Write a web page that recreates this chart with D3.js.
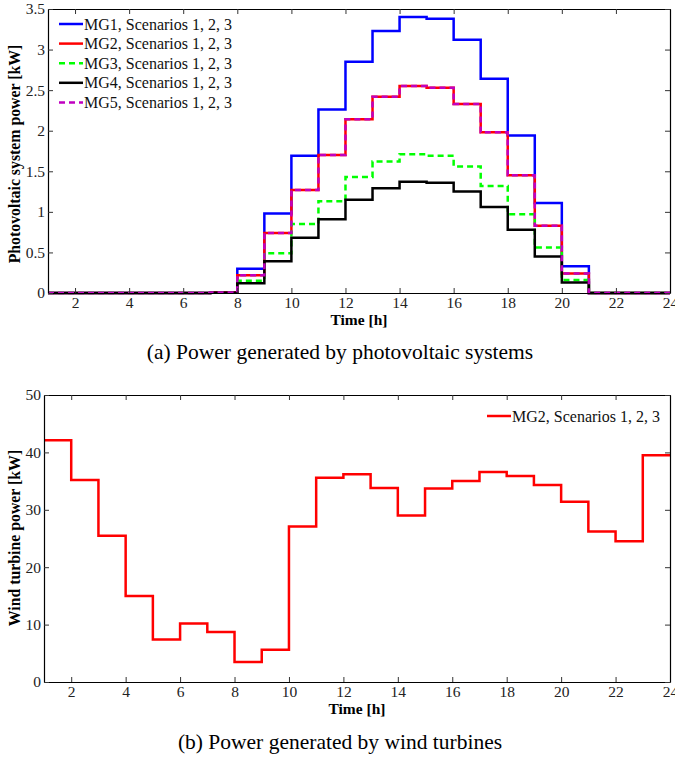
<!DOCTYPE html>
<html>
<head>
<meta charset="utf-8">
<script src="https://cdn.jsdelivr.net/npm/d3@7/dist/d3.min.js"></script>
<style>
  html, body { margin: 0; padding: 0; background: #fff; }
  svg { display: block; }
  text { font-family: "Liberation Serif", "Times New Roman", serif; }
</style>
</head>
<body>
<svg id="chart" width="675" height="758"></svg>
<script>
// ---------- DATA ----------
const hours = d3.range(1, 25); // 1..24
const xTicks = [2, 4, 6, 8, 10, 12, 14, 16, 18, 20, 22, 24];
const pvTicks = [0, 0.5, 1, 1.5, 2, 2.5, 3, 3.5];
const windTicks = [0, 10, 20, 30, 40, 50];

const pvMG1 = [0, 0, 0, 0, 0, 0, 0.01, 0.30, 0.98, 1.69, 2.26, 2.85, 3.23, 3.40, 3.38, 3.12, 2.64, 1.94, 1.11, 0.33, 0, 0, 0, 0];
const pvMG2 = [0, 0, 0, 0, 0, 0, 0.005, 0.22, 0.74, 1.27, 1.70, 2.14, 2.42, 2.55, 2.53, 2.33, 1.98, 1.45, 0.83, 0.24, 0, 0, 0, 0];
const pvMG3 = [0, 0, 0, 0, 0, 0, 0.004, 0.15, 0.49, 0.85, 1.13, 1.43, 1.62, 1.71, 1.69, 1.56, 1.32, 0.97, 0.56, 0.16, 0, 0, 0, 0];
const pvMG4 = [0, 0, 0, 0, 0, 0, 0.003, 0.12, 0.39, 0.68, 0.91, 1.15, 1.29, 1.37, 1.36, 1.25, 1.06, 0.78, 0.45, 0.13, 0, 0, 0, 0];
const pvMG5 = [0, 0, 0, 0, 0, 0, 0.005, 0.22, 0.74, 1.27, 1.70, 2.14, 2.42, 2.55, 2.53, 2.33, 1.98, 1.45, 0.83, 0.24, 0, 0, 0, 0];

const windMG2 = [42.1, 35.2, 25.5, 15.0, 7.4, 10.2, 8.7, 3.5, 5.6, 27.1, 35.6, 36.2, 33.8, 29.0, 33.7, 35.0, 36.6, 35.9, 34.3, 31.4, 26.2, 24.5, 39.5, 39.5];

const pvLabels = ["MG1, Scenarios 1, 2, 3", "MG2, Scenarios 1, 2, 3", "MG3, Scenarios 1, 2, 3", "MG4, Scenarios 1, 2, 3", "MG5, Scenarios 1, 2, 3"];
const windLabel = "MG2, Scenarios 1, 2, 3";

// ---------- STYLES ----------
const pvSeries = [
  { values: pvMG1, color: "#0000ff", dash: null },
  { values: pvMG2, color: "#ff0000", dash: null },
  { values: pvMG3, color: "#00ff00", dash: "6,4" },
  { values: pvMG4, color: "#000000", dash: null },
  { values: pvMG5, color: "#c000c0", dash: "6,4" }
];

const svg = d3.select("#chart");

function drawPanel(cfg) {
  const x = d3.scaleLinear().domain([1, 24]).range([cfg.left, cfg.right]);
  const y = d3.scaleLinear().domain(cfg.yDomain).range([cfg.bottom, cfg.top]);
  const g = svg.append("g");

  const line = d3.line().x((d, i) => x(hours[i])).y(d => y(d)).curve(d3.curveStepAfter);

  cfg.series.forEach(s => {
    g.append("path")
      .datum(s.values)
      .attr("d", line)
      .attr("fill", "none")
      .attr("stroke", s.color)
      .attr("stroke-width", 2.5)
      .attr("stroke-dasharray", s.dash)
      .attr("stroke-linejoin", "miter");
  });

  const styleAxis = sel => {
    sel.selectAll("path.domain").attr("stroke", "#000").attr("stroke-width", 1.2);
    sel.selectAll(".tick line").attr("stroke", "#333").attr("stroke-width", 1);
    sel.selectAll(".tick text").attr("fill", "#222")
      .style("font-family", "'Liberation Serif', serif").style("font-size", "15.5px");
  };

  g.append("g").attr("transform", `translate(0,${cfg.bottom})`)
    .call(d3.axisBottom(x).tickValues(xTicks).tickSizeInner(-5).tickSizeOuter(0).tickPadding(4))
    .call(styleAxis);
  g.append("g").attr("transform", `translate(0,${cfg.top})`)
    .call(d3.axisTop(x).tickValues(xTicks).tickSizeInner(-5).tickSizeOuter(0).tickFormat(""))
    .call(styleAxis);
  g.append("g").attr("transform", `translate(${cfg.left},0)`)
    .call(d3.axisLeft(y).tickValues(cfg.yTicks).tickSizeInner(-5).tickSizeOuter(0).tickPadding(3).tickFormat(d3.format("")))
    .call(styleAxis);
  g.append("g").attr("transform", `translate(${cfg.right},0)`)
    .call(d3.axisRight(y).tickValues(cfg.yTicks).tickSizeInner(-5).tickSizeOuter(0).tickFormat(""))
    .call(styleAxis);

  g.append("text")
    .attr("x", (cfg.left + cfg.right) / 2).attr("y", cfg.bottom + 32)
    .attr("text-anchor", "middle")
    .style("font-size", "15.5px").style("font-weight", "bold")
    .text("Time [h]");
  g.append("text")
    .attr("transform", `translate(20,${cfg.yTitleY}) rotate(-90)`)
    .attr("text-anchor", "middle")
    .style("font-size", "15.8px").style("font-weight", "bold")
    .text(cfg.yTitle);

  g.append("text")
    .attr("x", 340).attr("y", cfg.captionY)
    .attr("text-anchor", "middle")
    .style("font-size", "21.5px")
    .text(cfg.caption);

  cfg.legend.forEach((l, i) => {
    const ly = cfg.legendY + i * 19.6;
    g.append("line")
      .attr("x1", cfg.legendX).attr("x2", cfg.legendX + 24)
      .attr("y1", ly).attr("y2", ly)
      .attr("stroke", l.color).attr("stroke-width", 2.5)
      .attr("stroke-dasharray", l.dash);
    g.append("text")
      .attr("x", cfg.legendX + 25).attr("y", ly + 5.5)
      .style("font-size", "16px").attr("fill", "#111")
      .text(l.label);
  });
}

drawPanel({
  left: 48, right: 670, top: 9, bottom: 293,
  yDomain: [0, 3.5], yTicks: pvTicks,
  series: pvSeries,
  yTitle: "Photovoltaic system power [kW]", yTitleY: 154,
  caption: "(a) Power generated by photovoltaic systems",
  captionY: 359,
  legendX: 59, legendY: 24,
  legend: pvSeries.map((s, i) => ({ color: s.color, dash: s.dash, label: pvLabels[i] }))
});

drawPanel({
  left: 44, right: 670, top: 395, bottom: 682,
  yDomain: [0, 50], yTicks: windTicks,
  series: [{ values: windMG2, color: "#ff0000", dash: null }],
  yTitle: "Wind turbine power [kW]", yTitleY: 538,
  caption: "(b) Power generated by wind turbines",
  captionY: 749,
  legendX: 487, legendY: 416,
  legend: [{ color: "#ff0000", dash: null, label: windLabel }]
});
</script>
</body>
</html>
